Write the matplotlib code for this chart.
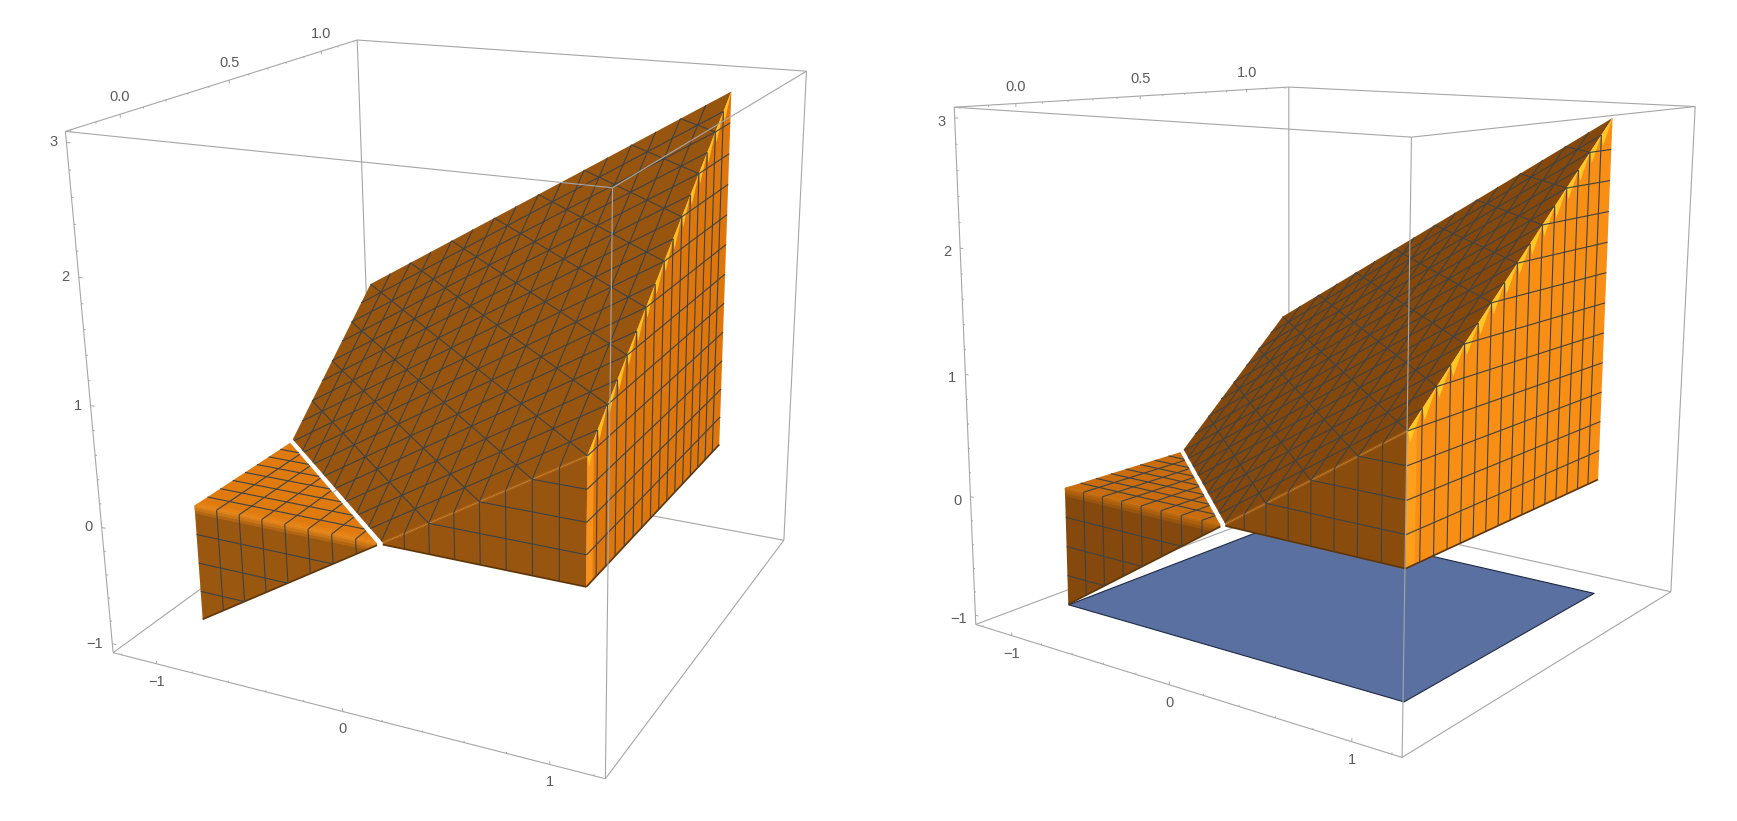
import numpy as np
import matplotlib
matplotlib.use('Agg')
import matplotlib.pyplot as plt
from mpl_toolkits.mplot3d import proj3d
from mpl_toolkits.mplot3d.art3d import Poly3DCollection, Line3DCollection

plt.rcParams['font.family'] = ['Liberation Sans', 'DejaVu Sans']

# box limits and ticks
x_lim = [-1.25, 1.25]
y_lim = [-0.22, 1.22]
z_lim = [-1.08, 3.08]
x_major = [-1, 0, 1]
y_major = [0.0, 0.5, 1.0]
z_major = [-1, 0, 1, 2, 3]
x_minor = [-1.2, -0.8, -0.6, -0.4, -0.2, 0.2, 0.4, 0.6, 0.8, 1.2]
y_minor = [-0.2, -0.1, 0.1, 0.2, 0.3, 0.4, 0.6, 0.7, 0.8, 0.9, 1.1, 1.2]
z_minor = [-0.8, -0.6, -0.4, -0.2, 0.2, 0.4, 0.6, 0.8, 1.2, 1.4, 1.6, 1.8, 2.2, 2.4, 2.6, 2.8]
x_labels = ['\u22121', '0', '1']
y_labels = ['0.0', '0.5', '1.0']
z_labels = ['\u22121', '0', '1', '2', '3']

# mesh levels
x_mesh = [-0.875, -0.75, -0.625, -0.5, -0.375, -0.25, -0.125, 0.0, 0.125, 0.25, 0.375, 0.5, 0.625, 0.75, 0.875]
y_mesh = [0.0625, 0.125, 0.1875, 0.25, 0.3125, 0.375, 0.4375, 0.5, 0.5625, 0.625, 0.6875, 0.75, 0.8125, 0.875, 0.9375]
z_mesh = [-0.75, -0.5, -0.25, 0.25, 0.5, 0.75, 1.0, 1.25, 1.5, 1.75, 2.0, 2.25, 2.5, 2.75]

# faces of the solid (x, y, z)
tri_top = [(-1, 0, 0), (-0.015, 0, 0), (-1, 0.4925, 0)]
tri_wall = [(-1, 0, -1), (-0.015, 0, -0.015), (-0.015, 0, 0), (-1, 0, 0)]
big_top = [(0.015, 0, 0.015), (1, 0, 1), (1, 1, 3), (-1, 1, 1), (-1, 0.5075, 0.015)]
big_front = [(0.015, 0, 0), (1, 0, 0), (1, 0, 1), (0.015, 0, 0.015)]
big_right = [(1, 0, 0), (1, 1, 0), (1, 1, 3), (1, 0, 1)]
blue_plane = [(-1, 0, -1), (1, 0, -1), (1, 1, -1), (-1, 1, -1)]

# where the box corners sit in the image, pixels from top left
left_corners = {'T1': (65.5, 132), 'T2': (357, 39.5), 'T3': (806.5, 72), 'T4': (612.7, 186.7),
                'B1': (113.3, 652.7), 'B3': (784, 540), 'B4': (605, 779)}
right_corners = {'T1': (955, 107.3), 'T2': (1288, 86.5), 'T3': (1696, 108), 'T4': (1410.7, 136),
                 'B1': (976, 625), 'B3': (1671, 591), 'B4': (1401.7, 757.7)}

left_colors = {'top': '#98550F', 'front': '#98550F', 'right': '#DE760C', 'tri_top': '#DF7A0F',
               'tri_wall': '#9A5710', 'corner': '#F8921A', 'band': '#EC8A1C', 'crease': '#FFC020'}
right_colors = {'top': '#85480C', 'front': '#8A4C0D', 'right': '#F98E14', 'tri_top': '#C86C0E',
                'tri_wall': '#85490D', 'corner': '#FF9F1E', 'band': '#C8700F', 'crease': '#FFC825'}

W, H = 1737, 821
MESH = '#3C4246'
BOX = '#A6A6A6'


def box_point(name):
    xs = {'T1': 0, 'T2': 0, 'T3': 1, 'T4': 1, 'B1': 0, 'B3': 1, 'B4': 1}[name]
    ys = {'T1': 0, 'T2': 1, 'T3': 1, 'T4': 0, 'B1': 0, 'B3': 1, 'B4': 0}[name]
    zs = 1 if name[0] == 'T' else 0
    return x_lim[xs], y_lim[ys], z_lim[zs]


def camera(corners):
    # perspective matrix from the box corners
    A, b = [], []
    for name, (u, v) in corners.items():
        X, Y, Z = box_point(name)
        v = H - v
        A.append([X, Y, Z, 1, 0, 0, 0, 0, -u * X, -u * Y, -u * Z])
        b.append(u)
        A.append([0, 0, 0, 0, X, Y, Z, 1, -v * X, -v * Y, -v * Z])
        b.append(v)
    p = np.linalg.lstsq(np.array(A), np.array(b), rcond=None)[0]
    return np.array([[p[0], p[1], p[2], p[3]],
                     [p[4], p[5], p[6], p[7]],
                     [0, 0, 0, -1],
                     [p[8], p[9], p[10], 1]])


def cut_lines(face, axis, levels):
    # mesh lines: crossings of a flat face with the levels of one coordinate
    pts = np.array(face, dtype=float)
    segs = []
    for lev in levels:
        hits = []
        for a, b in zip(pts, np.roll(pts, -1, axis=0)):
            da, db = a[axis] - lev, b[axis] - lev
            if da * db < 0:
                hits.append(a + (b - a) * da / (da - db))
            elif da == 0:
                hits.append(a)
        if len(hits) >= 2:
            segs.append([hits[0], hits[-1]])
    return segs


def add_poly(ax, verts, color, zorder, alpha=None, edge='none', lw=0):
    ax.add_collection3d(Poly3DCollection([verts], facecolors=color, edgecolors=edge,
                                         linewidths=lw, alpha=alpha, zorder=zorder), autolim=False)


def add_lines(ax, segs, color, lw, zorder, alpha=None):
    ax.add_collection3d(Line3DCollection(segs, colors=color, linewidths=lw, alpha=alpha, zorder=zorder), autolim=False)


def draw_panel(x0, corners, colors, show_blue, z_dy):
    ax = plt.figure(1).add_axes([x0 / W, 0, H / W, 1], projection='3d')
    ax.set_axis_off()
    ax.computed_zorder = False
    M = camera(corners)
    ax.get_proj = lambda: M
    ax.viewLim.intervalx = (x0, x0 + H)
    ax.viewLim.intervaly = (0, H)

    xa, xb = x_lim
    ya, yb = y_lim
    za, zb = z_lim
    back = [[(xa, yb, zb), (xa, yb, za)], [(xa, ya, za), (xa, yb, za)], [(xa, yb, za), (xb, yb, za)]]
    outer = [[(xa, ya, zb), (xa, yb, zb)], [(xa, yb, zb), (xb, yb, zb)],
             [(xa, ya, zb), (xa, ya, za)], [(xb, yb, zb), (xb, yb, za)],
             [(xa, ya, za), (xb, ya, za)], [(xb, ya, za), (xb, yb, za)]]
    front = [[(xa, ya, zb), (xb, ya, zb)], [(xb, ya, zb), (xb, yb, zb)], [(xb, ya, zb), (xb, ya, za)]]
    add_lines(ax, back + outer, BOX, 0.8, 1)

    if show_blue:
        add_poly(ax, blue_plane, '#5A70A0', 2, edge='#1E2A44', lw=0.8)

    add_poly(ax, tri_top, colors['tri_top'], 3)
    add_poly(ax, tri_wall, colors['tri_wall'], 3)
    add_poly(ax, big_top, colors['top'], 3)
    add_poly(ax, big_front, colors['front'], 3)
    add_poly(ax, big_right, colors['right'], 3)

    # rounded edges of the solid
    for d, a in [(0.07, 0.3), (0.045, 0.4), (0.02, 0.55)]:
        add_poly(ax, [(-1, 0, -d), (-d, 0, -d), (-0.015, 0, 0), (-1, 0, 0)], colors['band'], 4, alpha=a)
        add_poly(ax, [(-1, d * 0.4, 0), (-0.015 - d, d * 0.4, 0), (-0.015, 0, 0), (-1, 0, 0)], colors['band'], 4, alpha=a)
    add_poly(ax, [(1, 0, 0), (1, 0.04, 0), (1, 0.04, 1.08), (1, 0, 1)], colors['corner'], 4)
    steps = [0.0] + y_mesh + [1.0]
    for y0, y1 in zip(steps[:-1], steps[1:]):
        add_poly(ax, [(1, y0, 1 + 2 * y0), (1, y1, 1 + 2 * y1), (1, y0 + 0.012, 1 + 2 * y0 - 0.09)], colors['crease'], 4)
    add_lines(ax, [[(0.015, 0, 0.015), (1, 0, 1)]], colors['corner'], 2.2, 4, alpha=0.2)
    add_lines(ax, [[(-1, 0, -1), (-0.015, 0, -0.015)], [(0.015, 0, 0), (1, 0, 0)], [(1, 0, 0), (1, 1, 0)]],
              '#5E3508', 1.2, 4)

    # mesh
    segs = []
    segs += cut_lines(tri_top, 0, x_mesh) + cut_lines(tri_top, 1, y_mesh)
    segs += cut_lines(tri_wall, 0, x_mesh) + cut_lines(tri_wall, 2, z_mesh)
    segs += cut_lines(big_top, 0, x_mesh) + cut_lines(big_top, 1, y_mesh) + cut_lines(big_top, 2, z_mesh)
    segs += cut_lines(big_front, 0, x_mesh) + cut_lines(big_front, 2, z_mesh)
    segs += cut_lines(big_right, 1, y_mesh) + cut_lines(big_right, 2, z_mesh)
    add_lines(ax, segs, MESH, 0.8, 5)

    add_lines(ax, front, BOX, 0.8, 6)

    # ticks
    ticks = []
    for v, ln in [(x_major, 0.026), (x_minor, 0.013)]:
        ticks += [[(t, ya, za), (t, ya, za + ln)] for t in v]
    for v, ln in [(y_major, 0.026), (y_minor, 0.013)]:
        ticks += [[(xa, t, zb), (xa, t, zb - ln)] for t in v]
    for v, ln in [(z_major, 0.022), (z_minor, 0.011)]:
        ticks += [[(xa, ya, t), (xa + ln, ya, t)] for t in v]
    add_lines(ax, ticks, BOX, 0.7, 6)

    # tick labels, pushed off the box in pixels
    def label(txt, p, dx, dy, ha):
        u, v, _ = proj3d.proj_transform(p[0], p[1], p[2], M)
        ax.annotate(txt, (u, v), xytext=(dx, dy), textcoords='offset pixels', ha=ha, va='center',
                    fontsize=10.5, color='#5A5A5A', zorder=7)

    for t, s in zip(x_major, x_labels):
        label(s, (t, ya, za), 0, -18, 'center')
    for t, s in zip(y_major, y_labels):
        label(s, (xa, t, zb), 0, 17, 'center')
    for t, s in zip(z_major, z_labels):
        label(s, (xa, ya, t), -9, z_dy, 'right')
    return ax


fig = plt.figure(1, figsize=(W / 100, H / 100), dpi=100, facecolor='white')
draw_panel(20, left_corners, left_colors, False, 0)
draw_panel(890, right_corners, right_colors, True, -4)
fig.savefig('out.png', dpi=100)
